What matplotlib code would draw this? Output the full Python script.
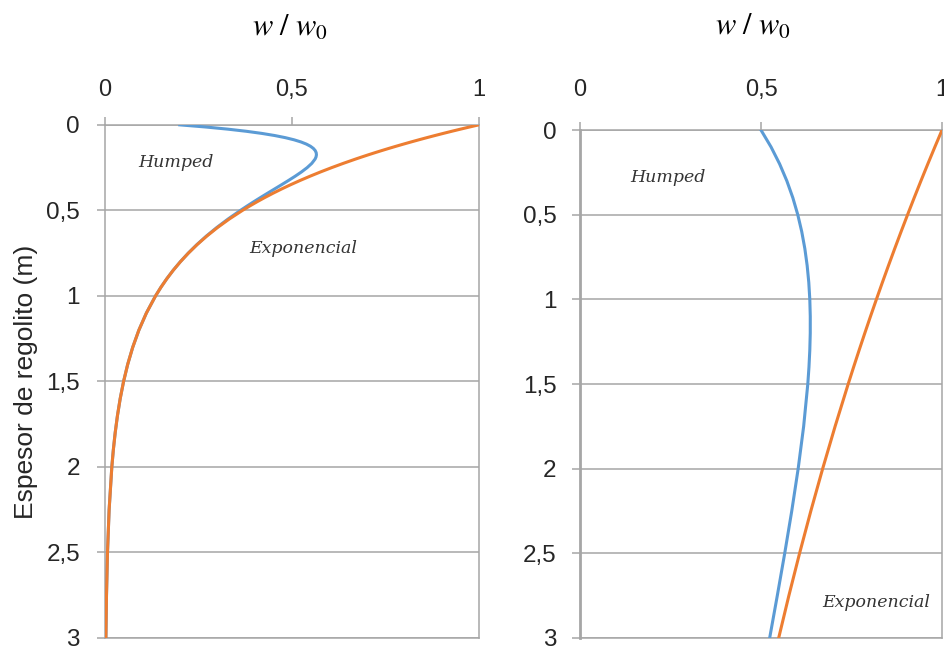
import matplotlib
matplotlib.use("Agg")
import matplotlib.pyplot as plt
from matplotlib.ticker import FuncFormatter

plt.rcParams['font.family'] = ['Liberation Sans', 'DejaVu Sans']
plt.rcParams['mathtext.fontset'] = 'stix'

# perfil izquierdo: produccion concentrada cerca de la superficie
prof_izq = [0, 0.0125, 0.025, 0.0375, 0.05, 0.0625, 0.075, 0.0875, 0.1, 0.1125,
            0.125, 0.1375, 0.15, 0.1625, 0.175, 0.1875, 0.2,
            0.225, 0.25, 0.275, 0.3, 0.325, 0.35, 0.375, 0.4, 0.425, 0.45, 0.475, 0.5,
            0.55, 0.6, 0.65, 0.7, 0.75, 0.8, 0.85, 0.9, 0.95, 1.0,
            1.1, 1.2, 1.3, 1.4, 1.5, 1.6, 1.7, 1.8, 1.9, 2.0,
            2.25, 2.5, 2.75, 3.0]
exp_izq = [1.0, 0.97531, 0.95123, 0.92774, 0.90484, 0.88250, 0.86071, 0.83946,
           0.81873, 0.79852, 0.77880, 0.75957, 0.74082, 0.72253, 0.70469, 0.68729,
           0.67032,
           0.63763, 0.60653, 0.57695, 0.54881, 0.52205, 0.49659, 0.47237, 0.44933,
           0.42741, 0.40657, 0.38674, 0.36788,
           0.33287, 0.30119, 0.27253, 0.24660, 0.22313, 0.20190, 0.18268, 0.16530,
           0.14957, 0.13534,
           0.11080, 0.09072, 0.07427, 0.06081, 0.04979, 0.04076, 0.03337, 0.02732,
           0.02237, 0.01832,
           0.01111, 0.00674, 0.00409, 0.00248]
hump_izq = [0.2, 0.26931, 0.32819, 0.37791, 0.41962, 0.45429, 0.48282, 0.50597,
            0.52443, 0.53880, 0.54960, 0.55730, 0.56232, 0.56500, 0.56567, 0.56461,
            0.56205,
            0.55331, 0.54086, 0.52581, 0.50898, 0.49103, 0.47243, 0.45356, 0.43468,
            0.41600, 0.39768, 0.37982, 0.36249,
            0.32960, 0.29921, 0.27133, 0.24587, 0.22269, 0.20163, 0.18252, 0.16520,
            0.14951, 0.13530,
            0.11079, 0.09072, 0.07427, 0.06081, 0.04979, 0.04076, 0.03337, 0.02732,
            0.02237, 0.01832,
            0.01111, 0.00674, 0.00409, 0.00248]

# perfil derecho: decaimiento lento con la profundidad
prof_der = [0, 0.1, 0.2, 0.3, 0.4, 0.5, 0.6, 0.7, 0.8, 0.9, 1.0, 1.1, 1.2, 1.3,
            1.4, 1.5, 1.75, 2.0, 2.25, 2.5, 2.75, 3.0]
exp_der = [1.0, 0.98020, 0.96079, 0.94176, 0.92312, 0.90484, 0.88692, 0.86936,
           0.85214, 0.83527, 0.81873, 0.80252, 0.78663, 0.77105, 0.75578, 0.74082,
           0.70469, 0.67032, 0.63763, 0.60653, 0.57695, 0.54881]
hump_der = [0.5, 0.52778, 0.55142, 0.57135, 0.58796, 0.60157, 0.61251, 0.62107,
            0.62747, 0.63199, 0.63479, 0.63608, 0.63603, 0.63478, 0.63248, 0.62925,
            0.61780, 0.60265, 0.58493, 0.56549, 0.54499, 0.52392]

AZUL = '#5B9BD5'
NARANJA = '#ED7D31'
GRIS = '#a6a6a6'


def coma(v, pos):
    s = f'{v:g}'
    return s.replace('.', ',')


def preparar(ax, xpad, ypad):
    ax.set_xlim(0, 1)
    ax.set_ylim(3, 0)
    ax.set_xticks([0, 0.5, 1])
    ax.set_yticks([0, 0.5, 1, 1.5, 2, 2.5, 3])
    ax.xaxis.set_major_formatter(FuncFormatter(coma))
    ax.yaxis.set_major_formatter(FuncFormatter(coma))
    ax.xaxis.tick_top()
    ax.tick_params(axis='x', length=6, width=1.1, color=GRIS, pad=xpad,
                   labelsize=17, labelcolor='#262626')
    ax.tick_params(axis='y', length=6, width=1.1, color=GRIS, pad=ypad,
                   labelsize=17.5, labelcolor='#262626')
    ax.grid(axis='y', color=GRIS, lw=1.1)
    ax.set_axisbelow(True)
    for sp in ax.spines.values():
        sp.set_color(GRIS)
        sp.set_linewidth(1.1)


fig = plt.figure(figsize=(9.44, 6.52), dpi=100)
ax1 = fig.add_axes([0.1112, 0.0215, 0.396, 0.787])
ax2 = fig.add_axes([0.6144, 0.0215, 0.3835, 0.779])

preparar(ax1, 11, 12)
ax1.plot(hump_izq, prof_izq, color=AZUL, lw=2.2, zorder=3)
ax1.plot(exp_izq, prof_izq, color=NARANJA, lw=2.2, zorder=4)
ax1.text(0.19, 0.22, 'Humped', style='italic', family='DejaVu Serif',
         fontsize=12.5, ha='center', va='center', color='#333333')
ax1.text(0.53, 0.72, 'Exponencial', style='italic', family='DejaVu Serif',
         fontsize=12.5, ha='center', va='center', color='#333333')
ax1.set_ylabel('Espesor de regolito (m)', fontsize=19, color='#262626', labelpad=6)

preparar(ax2, 15, 11)
ax2.spines['left'].set_linewidth(2)
ax2.plot(hump_der, prof_der, color=AZUL, lw=2.2, zorder=3)
ax2.plot(exp_der, prof_der, color=NARANJA, lw=2.2, zorder=4)
ax2.text(0.243, 0.28, 'Humped', style='italic', family='DejaVu Serif',
         fontsize=12.5, ha='center', va='center', color='#333333')
ax2.text(0.818, 2.79, 'Exponencial', style='italic', family='DejaVu Serif',
         fontsize=12.5, ha='center', va='center', color='#333333')

fig.text(290 / 944, 1 - 28 / 652, r'$w\ /\ w_0$', fontsize=22, ha='center', va='center')
fig.text(753 / 944, 1 - 27 / 652, r'$w\ /\ w_0$', fontsize=22, ha='center', va='center')

fig.savefig('out.png', dpi=100)
